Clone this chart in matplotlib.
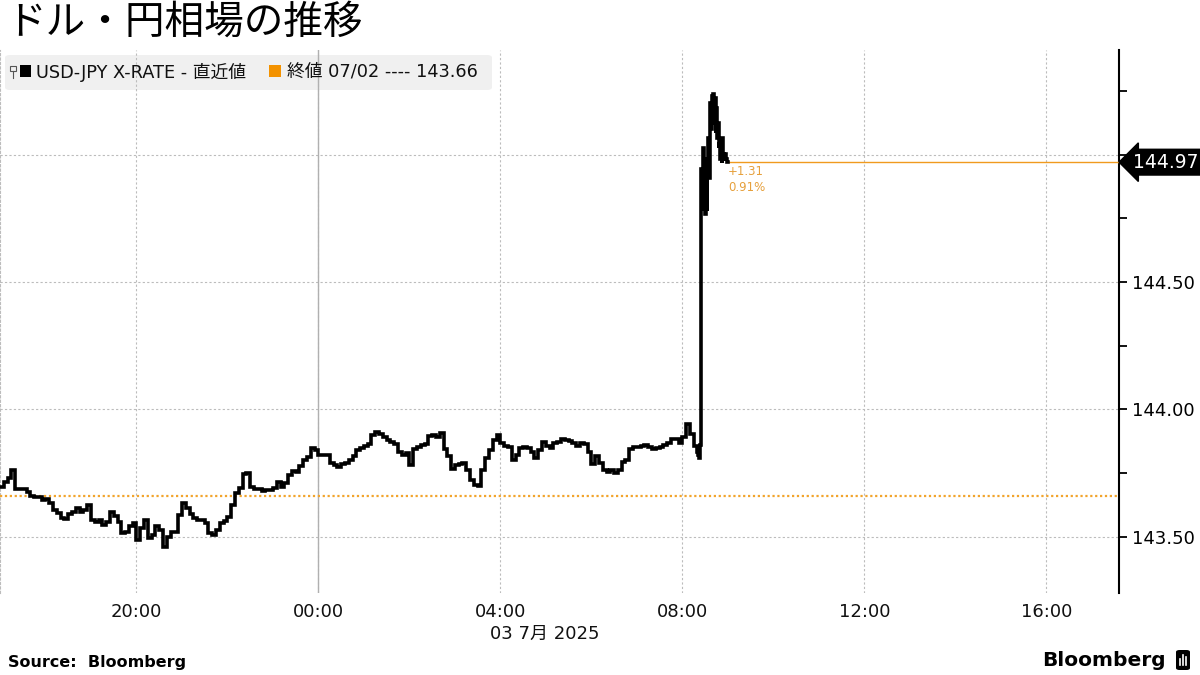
import matplotlib
matplotlib.use("Agg")
import matplotlib.pyplot as plt
import matplotlib.dates as mdates
from matplotlib.patches import FancyBboxPatch, Rectangle
from matplotlib.lines import Line2D
import pandas as pd

plt.rcParams['font.family'] = ['DejaVu Sans', 'Noto Sans CJK JP']

# ---------------- data ----------------
title = "ドル・円相場の推移"
series_label = "USD-JPY X-RATE - 直近値"
prev_label = "終値 07/02 ---- "
source_text = "Source:  Bloomberg"
brand_text = "Bloomberg"
date_label = "03 7月 2025"

start_5min = "2025-07-02 17:00"
usdjpy_5min = [
    143.697, 143.717, 143.732, 143.764, 143.689, 143.689, 143.689, 143.677, 143.661, 143.657,
    143.657, 143.646, 143.650, 143.634, 143.606, 143.594, 143.575, 143.571, 143.591, 143.598,
    143.614, 143.598, 143.606, 143.626, 143.567, 143.559, 143.567, 143.547, 143.559, 143.598,
    143.583, 143.559, 143.516, 143.520, 143.543, 143.555, 143.488, 143.535, 143.567, 143.496,
    143.508, 143.543, 143.528, 143.461, 143.500, 143.520, 143.520, 143.587, 143.634, 143.614,
    143.591, 143.575, 143.567, 143.567, 143.555, 143.516, 143.508, 143.528, 143.555, 143.563,
    143.579, 143.626, 143.673, 143.693, 143.748, 143.752, 143.697, 143.689, 143.689, 143.681,
    143.685, 143.685, 143.693, 143.717, 143.697, 143.713, 143.744, 143.760, 143.756, 143.780,
    143.803, 143.815, 143.850, 143.839, 143.823, 143.823, 143.823, 143.791, 143.783, 143.776,
    143.787, 143.791, 143.803, 143.819, 143.839, 143.850, 143.858, 143.866, 143.898, 143.913,
    143.902, 143.890, 143.882, 143.874, 143.866, 143.835, 143.823, 143.831, 143.783, 143.843,
    143.854, 143.862, 143.866, 143.894, 143.898, 143.890, 143.909, 143.846, 143.819, 143.768,
    143.783, 143.787, 143.791, 143.764, 143.724, 143.705, 143.701, 143.764, 143.811, 143.839,
    143.882, 143.898, 143.870, 143.858, 143.854, 143.803, 143.823, 143.850, 143.854, 143.850,
    143.835, 143.811, 143.839, 143.874, 143.858, 143.850, 143.870, 143.874, 143.886, 143.882,
    143.878, 143.870, 143.858, 143.870, 143.866, 143.835, 143.787, 143.819, 143.791, 143.764,
    143.756, 143.764, 143.752, 143.764, 143.795, 143.803, 143.843, 143.854, 143.854, 143.858,
    143.862, 143.854, 143.843, 143.850, 143.854, 143.862, 143.870, 143.886, 143.886, 143.870,
    143.890, 143.941, 143.902, 143.858, 143.835,
]
usdjpy_1min = [
    143.823, 143.811, 143.862, 144.768, 144.945, 144.787, 145.024, 144.807, 144.866, 144.768,
    144.984, 144.780, 144.925, 145.063, 144.906, 145.142, 145.201, 145.102, 145.228, 145.181,
    145.236, 145.122, 145.220, 145.083, 145.181, 145.063, 145.122, 145.024, 145.043, 144.984,
    145.043, 144.965, 145.063, 145.004, 144.984, 145.004, 144.976, 144.984, 144.972, 144.970,
]
prev_close = 143.66

y_major = [143.50, 144.00, 144.50, 145.00]
y_minor = [143.75, 144.25, 144.75, 145.25]
x_range = ("2025-07-02 17:00", "2025-07-03 17:36")
y_range = (143.28, 145.41)
midnight = "2025-07-03 00:00"

# ---------------- build series ----------------
t5 = pd.date_range(start_5min, periods=len(usdjpy_5min), freq="5min")
t1 = pd.date_range(t5[-1] + pd.Timedelta(minutes=1), periods=len(usdjpy_1min), freq="1min")
s = pd.concat([pd.Series(usdjpy_5min, index=t5), pd.Series(usdjpy_1min, index=t1)])
last_t, last_v = s.index[-1], s.iloc[-1]
chg = last_v - prev_close
pct = chg / prev_close * 100

# ---------------- figure ----------------
W, H = 1200, 675
fig = plt.figure(figsize=(W / 100, H / 100), dpi=100)
fig.patch.set_facecolor("white")

def fx(px):
    return px / W

def fy(py):
    return 1 - py / H

ax = fig.add_axes([0, fy(593), 1119 / W, (593 - 50) / H])
ax.set_facecolor("white")

ORANGE = "#f09a1e"
GRID = "#bcbcbc"
LEG_FONT = ["DejaVu Sans", "Noto Sans CJK JP"]

ax.plot(s.index, s.values, color="black", lw=2.6, drawstyle="steps-post",
        solid_joinstyle="miter", zorder=4)
ax.axhline(prev_close, color="#f2a42c", lw=1.6, ls=(0, (1, 1.2)), zorder=3)
ax.plot([last_t, pd.Timestamp(x_range[1])], [last_v, last_v], color=ORANGE, lw=1.0,
        zorder=3, solid_capstyle="butt")

ax.set_xlim(pd.Timestamp(x_range[0]), pd.Timestamp(x_range[1]))
ax.set_ylim(*y_range)

# axes styling
for side in ["top", "bottom"]:
    ax.spines[side].set_visible(False)
ax.spines["left"].set_color(GRID)
ax.spines["left"].set_linestyle((0, (2, 2)))
ax.spines["left"].set_linewidth(0.8)
ax.spines["right"].set_color("black")
ax.spines["right"].set_linewidth(1.5)

ax.yaxis.tick_right()
ax.set_yticks(y_major)
ax.set_yticks(y_minor, minor=True)
ax.yaxis.set_major_formatter(matplotlib.ticker.FormatStrFormatter("%.2f"))
ax.tick_params(axis="y", which="major", length=6, width=1.3, pad=3,
               labelsize=13, colors="black")
ax.tick_params(axis="y", which="minor", length=6, width=1.3, colors="black")

ax.xaxis.set_major_locator(mdates.HourLocator(byhour=[0, 4, 8, 12, 16, 20]))
ax.xaxis.set_major_formatter(mdates.DateFormatter("%H:%M"))
ax.tick_params(axis="x", length=0, pad=7, labelsize=13, colors="#111111")

ax.set_axisbelow(True)
ax.grid(True, axis="both", which="major", color=GRID, lw=0.8, ls=(0, (2, 2)))
ax.axvline(pd.Timestamp(midnight), color="#b0b0b0", lw=1.0, zorder=0.6)

# legend box (under gridlines)
box = FancyBboxPatch((fx(5), fy(90)), (492 - 5) / W, (90 - 55) / H,
                     boxstyle="round,pad=0,rounding_size=0.004",
                     transform=fig.transFigure, fc="#f0f0f0", ec="none", zorder=0.4)
ax.add_patch(box)
# pin icon
ax.add_patch(Rectangle((fx(10), fy(71)), 6 / W, 5 / H, transform=fig.transFigure,
                       fc="none", ec="#555555", lw=0.8, zorder=5, clip_on=False))
ax.add_line(Line2D([fx(13), fx(13)], [fy(71), fy(78)], transform=fig.transFigure,
                   color="#555555", lw=0.8, zorder=5, clip_on=False))
ax.add_patch(Rectangle((fx(20), fy(77)), 11 / W, 12 / H, transform=fig.transFigure,
                       fc="black", ec="none", zorder=5, clip_on=False))
fig.text(fx(36), fy(72), series_label, fontsize=12.8, va="center", ha="left",
         family=LEG_FONT, color="#111111")
ax.add_patch(Rectangle((fx(269), fy(77)), 12 / W, 12 / H, transform=fig.transFigure,
                       fc="#f39200", ec="none", zorder=5, clip_on=False))
fig.text(fx(287), fy(72), prev_label + f"{prev_close:.2f}", fontsize=12.8, va="center",
         ha="left", family=LEG_FONT, color="#111111")

# change annotations
ax.annotate(f"{chg:+.2f}", xy=(last_t, last_v), xytext=(0, -7), textcoords="offset points",
            fontsize=8.5, color="#e6a03c", ha="left", va="center")
ax.annotate(f"{pct:.2f}%", xy=(last_t, last_v), xytext=(0, -18), textcoords="offset points",
            fontsize=8.5, color="#e6a03c", ha="left", va="center")

# last value tag
ax.annotate(f"{last_v:.2f}", xy=(1, last_v), xycoords=("axes fraction", "data"),
            xytext=(10, 0), textcoords="offset points", ha="left", va="center",
            color="white", fontsize=13.5,
            bbox=dict(boxstyle="larrow,pad=0.18", fc="black", ec="black"),
            annotation_clip=False, zorder=10)

# titles and footer
fig.text(fx(6), fy(23), title, fontsize=28.5, va="center", ha="left",
         family=["Noto Sans CJK JP", "DejaVu Sans"], color="black")
fig.text(fx(545), fy(634), date_label, fontsize=13, va="center", ha="center",
         family=["DejaVu Sans", "Noto Sans CJK JP"], color="#111111")
fig.text(fx(8), fy(662), source_text, fontsize=11.5, fontweight="bold", va="center",
         ha="left", color="black")
fig.text(fx(1166), fy(660), brand_text, fontsize=14.5, fontweight="bold", va="center",
         ha="right", color="black")
logo = FancyBboxPatch((fx(1176), fy(670)), 14 / W, 20 / H,
                      boxstyle="round,pad=0,rounding_size=0.003",
                      transform=fig.transFigure, fc="black", ec="none")
fig.patches.append(logo)
for bx, bh in [(1180, 6), (1183, 10), (1186, 8)]:
    fig.lines.append(Line2D([fx(bx), fx(bx)], [fy(665), fy(665 - bh)],
                            transform=fig.transFigure, color="white", lw=1.2))

fig.savefig("out.png", dpi=100, facecolor="white")
